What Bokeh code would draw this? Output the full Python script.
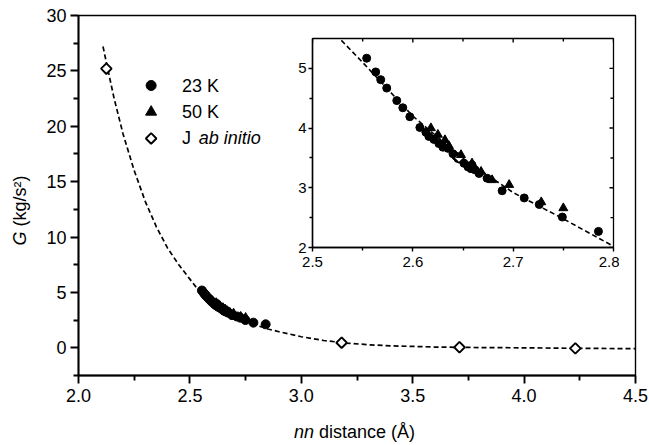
from math import pi
from bokeh.plotting import figure
from bokeh.models import Range1d, FixedTicker, PrintfTickFormatter
from bokeh.layouts import column
from bokeh.embed import file_html
from bokeh.resources import INLINE
from bokeh.core.properties import value

FONT = "Liberation Sans"

# ---------------- data ----------------
x_23K = [2.554, 2.563, 2.568, 2.574, 2.584, 2.590, 2.597, 2.607, 2.613, 2.616,
         2.621, 2.626, 2.630, 2.635, 2.640, 2.643, 2.645, 2.651, 2.655, 2.658,
         2.659, 2.662, 2.666, 2.674, 2.689, 2.711, 2.726, 2.749, 2.785, 2.840]
g_23K = [5.17, 4.94, 4.81, 4.67, 4.46, 4.34, 4.19, 4.01, 3.93, 3.86,
         3.81, 3.74, 3.68, 3.66, 3.57, 3.53, 3.49, 3.41, 3.35, 3.32,
         3.38, 3.30, 3.24, 3.16, 2.95, 2.83, 2.72, 2.51, 2.27, 2.12]

x_50K = [2.618, 2.625, 2.632, 2.636, 2.648, 2.659, 2.668, 2.679, 2.696, 2.728, 2.750]
g_50K = [4.00, 3.89, 3.80, 3.70, 3.55, 3.41, 3.27, 3.13, 3.05, 2.76, 2.66]

x_abinitio = [2.125, 2.646, 3.181, 3.710, 4.230]
g_abinitio = [25.2, 3.50, 0.46, 0.05, -0.05]

fit_x = [2.11, 2.13, 2.16, 2.20, 2.25, 2.30, 2.35, 2.40, 2.45, 2.50, 2.527, 2.55,
         2.60, 2.65, 2.70, 2.75, 2.80, 2.85, 2.90, 3.00, 3.10, 3.20, 3.30, 3.40,
         3.60, 3.80, 4.00, 4.20, 4.50]
fit_g = [27.2, 25.3, 22.5, 19.3, 16.0, 13.2, 10.9, 9.0, 7.5, 6.2, 5.5, 5.1,
         4.2, 3.49, 2.92, 2.48, 2.02, 1.70, 1.45, 1.00, 0.66, 0.43, 0.28, 0.18,
         0.07, 0.02, 0.0, -0.04, -0.08]

main_xticks = [2.0, 2.5, 3.0, 3.5, 4.0, 4.5]
main_xminor = [2.25, 2.75, 3.25, 3.75, 4.25]
main_yticks = [0, 5, 10, 15, 20, 25, 30]
main_yminor = [-2.5, 2.5, 7.5, 12.5, 17.5, 22.5, 27.5]
inset_xticks = [2.5, 2.6, 2.7, 2.8]
inset_xminor = [2.55, 2.65, 2.75]
inset_yticks = [2, 3, 4, 5]
inset_yminor = [2.5, 3.5, 4.5]

legend_labels = ["23 K", "50 K", "J"]
legend_italic = ["ab initio"]
xlabel_italic, xlabel_rest = "nn", "distance (Å)"
ylabel_italic, ylabel_rest = "G", "(kg/s²)"

W, H = 649, 445


def style_axis(ax, font_size, tick_out, minor_out, lw, standoff):
    ax.axis_line_color = "black"
    ax.axis_line_width = lw
    ax.major_tick_line_color = "black"
    ax.minor_tick_line_color = "black"
    ax.major_tick_line_width = lw
    ax.minor_tick_line_width = lw
    ax.major_tick_out = tick_out
    ax.major_tick_in = 0
    ax.minor_tick_out = minor_out
    ax.minor_tick_in = 0
    ax.major_label_text_font = FONT
    ax.major_label_text_font_size = font_size
    ax.major_label_text_color = "black"
    ax.major_label_standoff = standoff


# ---------------- main figure ----------------
p = figure(width=W, height=H, x_range=Range1d(2.0, 4.5), y_range=Range1d(-2.5, 30),
           output_backend="svg", toolbar_location=None, frame_align=False,
           min_border_left=78, min_border_right=14, min_border_top=15, min_border_bottom=70)
p.grid.visible = False
p.background_fill_color = "white"
p.border_fill_color = "white"
p.outline_line_color = "black"
p.outline_line_width = 1.4

p.xaxis.ticker = FixedTicker(ticks=main_xticks, minor_ticks=main_xminor)
p.xaxis.formatter = PrintfTickFormatter(format="%.1f")
p.yaxis.ticker = FixedTicker(ticks=main_yticks, minor_ticks=main_yminor)
p.yaxis.formatter = PrintfTickFormatter(format="%d")
style_axis(p.xaxis[0], "18px", 8, 5, 1.9, 5)
style_axis(p.yaxis[0], "18px", 8, 5, 1.9, 4)

p.line(fit_x, fit_g, line_color="black", line_width=1.7, line_dash="5 3")
p.scatter(x_23K, g_23K, marker="circle", size=9, color="black")
p.scatter(x_abinitio, g_abinitio, marker="square", angle=pi / 4, size=7.5,
          fill_color="white", line_color="black", line_width=1.9)
p.scatter(x_50K, g_50K, marker="triangle", size=10, color="black")

# legend (drawn by hand so that "ab initio" can be italic)
leg_mx, leg_tx, leg_ix = 2.326, 2.465, 2.540
leg_y = [23.68, 21.29, 18.9]
p.scatter([leg_mx], [leg_y[0]], marker="circle", size=10, color="black")
p.scatter([leg_mx], [leg_y[1]], marker="triangle", size=11, color="black")
p.scatter([leg_mx], [leg_y[2]], marker="square", angle=pi / 4, size=7.5,
          fill_color="white", line_color="black", line_width=1.9)
p.text(x=[leg_tx] * 3, y=leg_y, text=legend_labels, text_font=value(FONT),
       text_font_size="18px", text_baseline="middle", text_align="left", text_color="black")
p.text(x=[leg_ix], y=[leg_y[2]], text=legend_italic, text_font=value(FONT),
       text_font_size="18px", text_font_style="italic", text_baseline="middle",
       text_align="left", text_color="black")

# ---------------- axis titles (transparent overlay, page-pixel coordinates) ----------------
t = figure(width=W, height=H, x_range=Range1d(0, W), y_range=Range1d(0, H),
           output_backend="svg", toolbar_location=None, frame_align=False,
           x_axis_location=None, y_axis_location=None,
           min_border_left=0, min_border_right=0, min_border_top=0, min_border_bottom=0)
t.margin = (-H, 0, 0, 0)
t.grid.visible = False
t.outline_line_color = None
t.background_fill_alpha = 0
t.border_fill_alpha = 0
t.text(x=[293.5], y=[H - 431], text=[xlabel_italic], text_font=value(FONT), text_font_size="18px",
       text_font_style="italic", text_baseline="middle", text_align="left", text_color="black")
t.text(x=[318.5], y=[H - 431], text=[xlabel_rest], text_font=value(FONT), text_font_size="18px",
       text_baseline="middle", text_align="left", text_color="black")
t.text(x=[19], y=[H - 245], text=[ylabel_italic], angle=pi / 2, text_font=value(FONT),
       text_font_size="18px", text_font_style="italic", text_baseline="middle",
       text_align="left", text_color="black")
t.text(x=[19], y=[H - 226], text=[ylabel_rest], angle=pi / 2, text_font=value(FONT),
       text_font_size="18px", text_baseline="middle", text_align="left", text_color="black")

# ---------------- inset figure ----------------
ins = figure(width=342, height=243, x_range=Range1d(2.5, 2.8), y_range=Range1d(2.0, 5.5),
             output_backend="svg", toolbar_location=None, frame_align=False,
             min_border_left=35, min_border_right=6, min_border_top=4, min_border_bottom=30)
ins.margin = (34 - H, 0, 0, 277)
ins.grid.visible = False
ins.background_fill_color = "white"
ins.border_fill_alpha = 0
ins.outline_line_color = "black"
ins.outline_line_width = 1.3

ins.xaxis.ticker = FixedTicker(ticks=inset_xticks, minor_ticks=inset_xminor)
ins.xaxis.formatter = PrintfTickFormatter(format="%.1f")
ins.yaxis.ticker = FixedTicker(ticks=inset_yticks, minor_ticks=inset_yminor)
ins.yaxis.formatter = PrintfTickFormatter(format="%d")
style_axis(ins.xaxis[0], "15px", 4, 3, 1.4, 5)
style_axis(ins.yaxis[0], "15px", 4, 3, 1.4, 2)

# mirrored inward ticks on the top and right edges
ins.ray(x=inset_xticks, y=[ins.y_range.end] * len(inset_xticks), length=4, angle=-pi / 2,
        length_units="screen", line_color="black", line_width=1.4)
ins.ray(x=inset_xminor, y=[ins.y_range.end] * len(inset_xminor), length=3, angle=-pi / 2,
        length_units="screen", line_color="black", line_width=1.4)
ins.ray(x=[ins.x_range.end] * len(inset_yticks), y=inset_yticks, length=4, angle=pi,
        length_units="screen", line_color="black", line_width=1.4)
ins.ray(x=[ins.x_range.end] * len(inset_yminor), y=inset_yminor, length=3, angle=pi,
        length_units="screen", line_color="black", line_width=1.4)

ins.line(fit_x, fit_g, line_color="black", line_width=1.6, line_dash="5 3")
ins.scatter(x_23K, g_23K, marker="circle", size=8, color="black")
ins.scatter(x_abinitio, g_abinitio, marker="square", angle=pi / 4, size=7,
            fill_color="white", line_color="black", line_width=1.5)
ins.scatter(x_50K, g_50K, marker="triangle", size=9, color="black")

layout = column(p, t, ins)
open("out.html", "w").write(file_html(layout, INLINE))
